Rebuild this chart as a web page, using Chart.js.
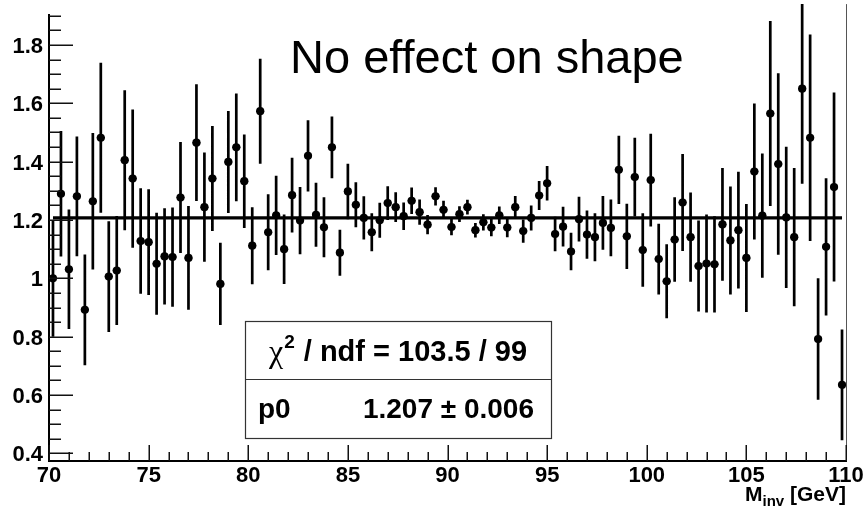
<!DOCTYPE html>
<html>
<head>
<meta charset="utf-8">
<script src="https://cdn.jsdelivr.net/npm/chart.js@4.4.1/dist/chart.umd.min.js"></script>
<style>
  html, body { margin: 0; padding: 0; background: #fff; }
  #wrap { width: 868px; height: 509px; }
</style>
</head>
<body>
<div id="wrap"><canvas id="ratioChart" width="868" height="509"></canvas></div>
<script>
// ratio histogram, 100 bins of 0.4 GeV, fitted with a constant (pol0)

var binCenters = [
  70.2, 70.6, 71.0, 71.4, 71.8, 72.2, 72.6, 73.0, 73.4, 73.8,
  74.2, 74.6, 75.0, 75.4, 75.8, 76.2, 76.6, 77.0, 77.4, 77.8,
  78.2, 78.6, 79.0, 79.4, 79.8, 80.2, 80.6, 81.0, 81.4, 81.8,
  82.2, 82.6, 83.0, 83.4, 83.8, 84.2, 84.6, 85.0, 85.4, 85.8,
  86.2, 86.6, 87.0, 87.4, 87.8, 88.2, 88.6, 89.0, 89.4, 89.8,
  90.2, 90.6, 91.0, 91.4, 91.8, 92.2, 92.6, 93.0, 93.4, 93.8,
  94.2, 94.6, 95.0, 95.4, 95.8, 96.2, 96.6, 97.0, 97.4, 97.8,
  98.2, 98.6, 99.0, 99.4, 99.8, 100.2, 100.6, 101.0, 101.4, 101.8,
  102.2, 102.6, 103.0, 103.4, 103.8, 104.2, 104.6, 105.0, 105.4, 105.8,
  106.2, 106.6, 107.0, 107.4, 107.8, 108.2, 108.6, 109.0, 109.4, 109.8
];

var ratioValues = [
  1.000, 1.290, 1.031, 1.281, 0.892, 1.264, 1.482, 1.006, 1.027, 1.405,
  1.342, 1.128, 1.124, 1.050, 1.075, 1.073, 1.277, 1.070, 1.465, 1.244,
  1.342, 0.981, 1.399, 1.449, 1.333, 1.112, 1.573, 1.158, 1.216, 1.100,
  1.285, 1.198, 1.420, 1.218, 1.175, 1.449, 1.088, 1.298, 1.252, 1.207,
  1.158, 1.199, 1.258, 1.244, 1.213, 1.266, 1.227, 1.184, 1.281, 1.235,
  1.176, 1.220, 1.244, 1.165, 1.192, 1.174, 1.216, 1.174, 1.244, 1.162,
  1.207, 1.284, 1.326, 1.152, 1.177, 1.092, 1.203, 1.150, 1.141, 1.190,
  1.173, 1.372, 1.144, 1.347, 1.097, 1.337, 1.066, 0.990, 1.133, 1.260,
  1.141, 1.042, 1.051, 1.048, 1.185, 1.130, 1.165, 1.070, 1.366, 1.215,
  1.565, 1.392, 1.209, 1.141, 1.650, 1.482, 0.792, 1.108, 1.313, 0.635
];

var ratioErrors = [
  0.200, 0.215, 0.205, 0.205, 0.190, 0.234, 0.257, 0.190, 0.187, 0.240,
  0.237, 0.181, 0.181, 0.175, 0.165, 0.170, 0.190, 0.178, 0.200, 0.187,
  0.180, 0.141, 0.175, 0.185, 0.160, 0.132, 0.180, 0.130, 0.136, 0.119,
  0.128, 0.115, 0.122, 0.110, 0.103, 0.106, 0.079, 0.095, 0.077, 0.074,
  0.065, 0.060, 0.058, 0.051, 0.047, 0.045, 0.043, 0.033, 0.031, 0.031,
  0.028, 0.027, 0.025, 0.025, 0.028, 0.030, 0.030, 0.033, 0.038, 0.040,
  0.043, 0.050, 0.059, 0.059, 0.068, 0.064, 0.077, 0.083, 0.082, 0.092,
  0.097, 0.117, 0.112, 0.135, 0.126, 0.159, 0.121, 0.127, 0.145, 0.166,
  0.153, 0.156, 0.168, 0.165, 0.193, 0.185, 0.200, 0.185, 0.233, 0.213,
  0.317, 0.311, 0.242, 0.237, 0.326, 0.354, 0.208, 0.235, 0.324, 0.190
];

var binHalfWidth = 0.2;

var xTicks = [70, 75, 80, 85, 90, 95, 100, 105, 110];
var yTicks = [0.4, 0.6, 0.8, 1.0, 1.2, 1.4, 1.6, 1.8];
var yTickLabels = ['0.4', '0.6', '0.8', '1', '1.2', '1.4', '1.6', '1.8'];

var fitRange = [70.2, 109.8];
var fitP0 = 1.207;
var fitP0Err = 0.006;
var fitChi2 = 103.5;
var fitNdf = 99;

var titleText = 'No effect on shape';

var SANS = '"Liberation Sans", Arial, Helvetica, sans-serif';

var points = binCenters.map(function(x, i) { return { x: x, y: ratioValues[i] }; });
var fitLine = fitRange.map(function(x) { return { x: x, y: fitP0 }; });

// vertical + horizontal error bars, drawn through the chart scales
var errorBars = {
  id: 'errorBars',
  beforeDatasetsDraw: function(chart) {
    var ctx = chart.ctx, a = chart.chartArea;
    var xs = chart.scales.x, ys = chart.scales.y;
    ctx.save();
    ctx.beginPath();
    ctx.rect(a.left, a.top, a.right - a.left, a.bottom - a.top);
    ctx.clip();
    ctx.strokeStyle = '#000';
    ctx.lineWidth = 2.7;
    ctx.beginPath();
    for (var i = 0; i < binCenters.length; i++) {
      var px = xs.getPixelForValue(binCenters[i]);
      ctx.moveTo(px, ys.getPixelForValue(ratioValues[i] + ratioErrors[i]));
      ctx.lineTo(px, ys.getPixelForValue(ratioValues[i] - ratioErrors[i]));
    }
    ctx.stroke();
    ctx.lineWidth = 1.5;
    ctx.beginPath();
    for (var j = 0; j < binCenters.length; j++) {
      var py = ys.getPixelForValue(ratioValues[j]);
      ctx.moveTo(xs.getPixelForValue(binCenters[j] - binHalfWidth), py);
      ctx.lineTo(xs.getPixelForValue(binCenters[j] + binHalfWidth), py);
    }
    ctx.stroke();
    ctx.restore();
  }
};

// ROOT style frame: inner ticks, bold labels, stats box, title
var rootFrame = {
  id: 'rootFrame',
  afterDatasetsDraw: function(chart) {
    var ctx = chart.ctx, a = chart.chartArea;
    var xs = chart.scales.x, ys = chart.scales.y;
    ctx.save();

    // thin right frame line
    ctx.strokeStyle = '#555';
    ctx.lineWidth = 1;
    ctx.beginPath();
    ctx.moveTo(a.right + 0.5, a.top);
    ctx.lineTo(a.right + 0.5, a.bottom);
    ctx.stroke();

    // axis lines
    ctx.strokeStyle = '#000';
    ctx.lineWidth = 2;
    ctx.beginPath();
    ctx.moveTo(a.left, a.top + 10);
    ctx.lineTo(a.left, a.bottom);
    ctx.moveTo(a.left - 1, a.bottom);
    ctx.lineTo(a.right + 1, a.bottom);
    ctx.stroke();

    // y ticks (major every 0.2, minor every 0.05)
    ctx.lineWidth = 1.5;
    ctx.strokeStyle = '#111';
    ctx.beginPath();
    var kMin = Math.ceil(ys.min / 0.05 - 1e-6), kMax = Math.floor(ys.max / 0.05 + 1e-6);
    for (var k = kMin; k <= kMax; k++) {
      var py = Math.round(ys.getPixelForValue(k * 0.05)) + 0.25;
      if (py < a.top + 10) continue;
      var len = (k % 4 === 0) ? 24 : 12;
      ctx.moveTo(a.left, py);
      ctx.lineTo(a.left + len, py);
    }
    // x ticks (major every 5, minor every 1)
    for (var g = xTicks[0]; g <= xTicks[xTicks.length - 1]; g++) {
      var px = Math.round(xs.getPixelForValue(g)) + 0.25;
      var l = (g % 5 === 0) ? 16 : 9;
      ctx.moveTo(px, a.bottom);
      ctx.lineTo(px, a.bottom - l);
    }
    ctx.stroke();

    // tick labels
    ctx.fillStyle = '#000';
    ctx.font = 'bold 22px ' + SANS;
    ctx.textAlign = 'right';
    ctx.textBaseline = 'middle';
    yTicks.forEach(function(v, i) {
      ctx.fillText(yTickLabels[i], a.left - 6, ys.getPixelForValue(v) + 2);
    });
    ctx.textAlign = 'center';
    ctx.textBaseline = 'alphabetic';
    xTicks.forEach(function(v) {
      ctx.fillText(String(v), xs.getPixelForValue(v), a.bottom + 21);
    });

    // x axis title  M_inv [GeV], right aligned
    var big = 'bold 21px ' + SANS, small = 'bold 15px ' + SANS;
    ctx.font = big;
    var wM = ctx.measureText('M').width, wG = ctx.measureText(' [GeV]').width;
    ctx.font = small;
    var wI = ctx.measureText('inv').width;
    var x0 = a.right - (wM + wI + wG);
    var base = a.bottom + 40;
    ctx.textAlign = 'left';
    ctx.font = big;
    ctx.fillText('M', x0, base);
    ctx.font = small;
    ctx.fillText('inv', x0 + wM, base + 5);
    ctx.font = big;
    ctx.fillText(' [GeV]', x0 + wM + wI, base);

    // title text
    ctx.font = '47px ' + SANS;
    ctx.fillText(titleText, 290, 73);

    // stats box
    var bx = 245, by = 321, bw = 306, bh = 117, bd = 379;
    ctx.fillStyle = '#fff';
    ctx.fillRect(bx, by, bw, bh);
    ctx.strokeStyle = '#333';
    ctx.lineWidth = 1.2;
    ctx.strokeRect(bx + 0.5, by + 0.5, bw, bh);
    ctx.beginPath();
    ctx.moveTo(bx, bd + 0.5);
    ctx.lineTo(bx + bw, bd + 0.5);
    ctx.stroke();

    ctx.fillStyle = '#000';
    var fChi = '32px "Liberation Serif", "DejaVu Serif", serif';
    var fSup = 'bold 19px ' + SANS;
    var fBold = 'bold 29px ' + SANS;
    var rest = ' / ndf = ' + fitChi2.toFixed(1) + ' / ' + fitNdf;
    ctx.font = fChi; var wChi = ctx.measureText('\u03c7').width;
    ctx.font = fSup; var wSup = ctx.measureText('2').width;
    ctx.font = fBold; var wRest = ctx.measureText(rest).width;
    var tx = bx + (bw - (wChi + wSup + 2 + wRest)) / 2;
    ctx.font = fChi; ctx.fillText('\u03c7', tx, 362);
    ctx.font = fSup; ctx.fillText('2', tx + wChi + 1, 348);
    ctx.font = fBold; ctx.fillText(rest, tx + wChi + wSup + 2, 361);

    ctx.font = 'bold 28px ' + SANS;
    ctx.fillText('p0', 258, 418);
    ctx.textAlign = 'right';
    ctx.fillText(fitP0.toFixed(3) + ' \u00b1 ' + fitP0Err.toFixed(3), 534, 418);

    ctx.restore();
  }
};

new Chart(document.getElementById('ratioChart'), {
  type: 'scatter',
  data: {
    datasets: [
      {
        type: 'line',
        data: fitLine,
        borderColor: '#000',
        borderWidth: 3.3,
        pointRadius: 0,
        fill: false,
        order: 0
      },
      {
        data: points,
        backgroundColor: '#000',
        borderWidth: 0,
        pointRadius: 4.1,
        pointHoverRadius: 4.1,
        order: 1
      }
    ]
  },
  options: {
    responsive: false,
    animation: false,
    devicePixelRatio: 1,
    layout: { padding: { left: 49, right: 22, top: 0, bottom: 48 } },
    plugins: { legend: { display: false }, tooltip: { enabled: false } },
    scales: {
      x: { type: 'linear', min: 70, max: 110, display: false },
      y: { type: 'linear', min: 0.374, max: 1.94, display: false }
    }
  },
  plugins: [errorBars, rootFrame]
});
</script>
</body>
</html>
